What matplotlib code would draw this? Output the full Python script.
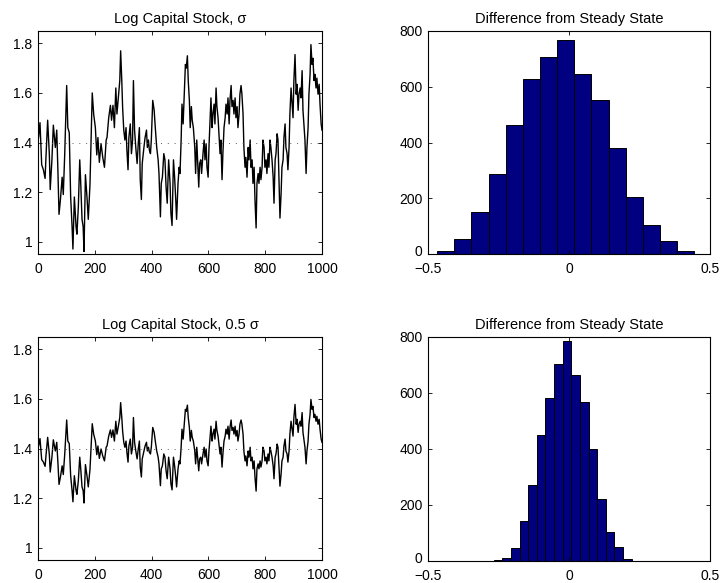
import matplotlib
matplotlib.use("Agg")
import matplotlib.pyplot as plt
import matplotlib.transforms as mtransforms

plt.rcParams["font.family"] = ["Liberation Sans", "DejaVu Sans"]

# time index of the points
steps = [0, 2, 7, 13, 19, 25, 28, 34, 40, 43, 49, 54, 61, 66, 70, 74, 79, 85, 89, 94,
         101, 105, 110, 115, 120, 123, 128, 134, 137, 142, 147, 150, 155, 159, 162, 167, 173, 177, 183, 188,
         191, 196, 202, 207, 211, 216, 222, 228, 234, 240, 243, 249, 255, 259, 264, 269, 274, 278, 283, 288,
         291, 295, 298, 302, 306, 310, 313, 317, 320, 325, 329, 333, 336, 340, 345, 349, 353, 357, 360, 364,
         367, 372, 377, 382, 385, 389, 392, 396, 399, 404, 409, 413, 418, 423, 426, 431, 434, 438, 443, 447,
         451, 455, 460, 465, 468, 472, 477, 481, 485, 488, 493, 497, 500, 504, 507, 511, 515, 519, 522, 526,
         529, 533, 536, 540, 543, 547, 552, 555, 559, 562, 566, 569, 573, 576, 581, 585, 588, 592, 595, 599,
         602, 606, 609, 613, 616, 620, 623, 627, 630, 634, 637, 641, 644, 648, 651, 655, 659, 662, 666, 669,
         673, 676, 680, 683, 687, 690, 694, 697, 701, 704, 708, 711, 715, 718, 722, 725, 729, 732, 736, 740,
         743, 747, 750, 754, 757, 761, 764, 768, 771, 775, 778, 782, 785, 789, 792, 796, 799, 803, 806, 810,
         813, 817, 820, 824, 828, 831, 835, 838, 842, 845, 849, 852, 856, 859, 863, 866, 870, 873, 877, 880,
         884, 887, 891, 894, 898, 901, 905, 909, 912, 916, 919, 923, 926, 930, 933, 937, 940, 944, 947, 951,
         954, 958, 961, 965, 968, 972, 975, 979, 982, 986, 990, 993, 997, 1000]

# log capital stock, full shock size
k_full = [1.41, 1.42, 1.48, 1.31, 1.29, 1.255, 1.34, 1.49, 1.35, 1.21, 1.33, 1.47, 1.38, 1.45, 1.29, 1.11, 1.17, 1.26, 1.19, 1.35,
          1.63, 1.46, 1.44, 1.18, 1.06, 0.97, 1.18, 1.06, 1.03, 1.14, 1.33, 1.25, 1.09, 1.06, 0.96, 1.27, 1.17, 1.09, 1.23, 1.46,
          1.60, 1.515, 1.46, 1.35, 1.42, 1.32, 1.395, 1.34, 1.30, 1.41, 1.42, 1.50, 1.55, 1.49, 1.55, 1.46, 1.62, 1.515, 1.58, 1.65,
          1.77, 1.65, 1.54, 1.45, 1.41, 1.46, 1.37, 1.29, 1.42, 1.475, 1.355, 1.41, 1.65, 1.45, 1.37, 1.315, 1.395, 1.46, 1.25, 1.17,
          1.315, 1.37, 1.42, 1.45, 1.38, 1.41, 1.37, 1.355, 1.41, 1.57, 1.53, 1.46, 1.38, 1.33, 1.275, 1.10, 1.235, 1.26, 1.355, 1.33,
          1.22, 1.155, 1.33, 1.235, 1.115, 1.065, 1.33, 1.26, 1.17, 1.09, 1.235, 1.30, 1.275, 1.41, 1.555, 1.475, 1.595, 1.715, 1.70, 1.75,
          1.65, 1.57, 1.46, 1.545, 1.49, 1.46, 1.38, 1.275, 1.41, 1.33, 1.22, 1.315, 1.33, 1.275, 1.355, 1.41, 1.33, 1.395, 1.30, 1.26,
          1.38, 1.49, 1.58, 1.46, 1.515, 1.555, 1.475, 1.62, 1.545, 1.50, 1.435, 1.355, 1.41, 1.25, 1.355, 1.46, 1.50, 1.555, 1.515, 1.58,
          1.475, 1.57, 1.63, 1.545, 1.57, 1.515, 1.58, 1.50, 1.545, 1.46, 1.515, 1.595, 1.63, 1.595, 1.515, 1.38, 1.30, 1.34, 1.26, 1.38,
          1.33, 1.41, 1.30, 1.33, 1.235, 1.30, 1.17, 1.055, 1.235, 1.275, 1.235, 1.30, 1.25, 1.30, 1.41, 1.38, 1.30, 1.33, 1.275, 1.355,
          1.30, 1.41, 1.38, 1.33, 1.26, 1.155, 1.33, 1.355, 1.435, 1.41, 1.22, 1.095, 1.195, 1.30, 1.33, 1.42, 1.475, 1.38, 1.355, 1.29,
          1.38, 1.515, 1.62, 1.57, 1.50, 1.65, 1.755, 1.595, 1.635, 1.53, 1.595, 1.62, 1.58, 1.69, 1.53, 1.46, 1.41, 1.275, 1.38, 1.46,
          1.595, 1.675, 1.795, 1.715, 1.74, 1.65, 1.675, 1.62, 1.66, 1.595, 1.635, 1.555, 1.475, 1.45]

# log capital stock, half shock size
k_half = [1.405, 1.41, 1.44, 1.355, 1.345, 1.328, 1.37, 1.445, 1.375, 1.305, 1.365, 1.435, 1.39, 1.425, 1.345, 1.255, 1.285, 1.33, 1.295, 1.375,
          1.515, 1.43, 1.42, 1.29, 1.23, 1.185, 1.29, 1.23, 1.215, 1.27, 1.365, 1.325, 1.245, 1.23, 1.18, 1.335, 1.285, 1.245, 1.315, 1.43,
          1.50, 1.458, 1.43, 1.375, 1.41, 1.36, 1.398, 1.37, 1.35, 1.405, 1.41, 1.45, 1.475, 1.445, 1.475, 1.43, 1.51, 1.458, 1.49, 1.525,
          1.585, 1.525, 1.47, 1.425, 1.405, 1.43, 1.385, 1.345, 1.41, 1.438, 1.378, 1.405, 1.525, 1.425, 1.385, 1.358, 1.398, 1.43, 1.325, 1.285,
          1.358, 1.385, 1.41, 1.425, 1.39, 1.405, 1.385, 1.378, 1.405, 1.485, 1.465, 1.43, 1.39, 1.365, 1.338, 1.25, 1.318, 1.33, 1.378, 1.365,
          1.31, 1.278, 1.365, 1.318, 1.258, 1.233, 1.365, 1.33, 1.285, 1.245, 1.318, 1.35, 1.338, 1.405, 1.478, 1.438, 1.498, 1.558, 1.55, 1.575,
          1.525, 1.485, 1.43, 1.473, 1.445, 1.43, 1.39, 1.338, 1.405, 1.365, 1.31, 1.358, 1.365, 1.338, 1.378, 1.405, 1.365, 1.398, 1.35, 1.33,
          1.39, 1.445, 1.49, 1.43, 1.458, 1.478, 1.438, 1.51, 1.473, 1.45, 1.418, 1.378, 1.405, 1.325, 1.378, 1.43, 1.45, 1.478, 1.458, 1.49,
          1.438, 1.485, 1.515, 1.473, 1.485, 1.458, 1.49, 1.45, 1.473, 1.43, 1.458, 1.498, 1.515, 1.498, 1.458, 1.39, 1.35, 1.37, 1.33, 1.39,
          1.365, 1.405, 1.35, 1.365, 1.318, 1.35, 1.285, 1.228, 1.318, 1.338, 1.318, 1.35, 1.325, 1.35, 1.405, 1.39, 1.35, 1.365, 1.338, 1.378,
          1.35, 1.405, 1.39, 1.365, 1.33, 1.278, 1.365, 1.378, 1.418, 1.405, 1.31, 1.248, 1.298, 1.35, 1.365, 1.41, 1.438, 1.39, 1.378, 1.345,
          1.39, 1.458, 1.51, 1.485, 1.45, 1.525, 1.578, 1.498, 1.518, 1.465, 1.498, 1.51, 1.49, 1.545, 1.465, 1.43, 1.405, 1.338, 1.39, 1.43,
          1.498, 1.538, 1.598, 1.558, 1.57, 1.525, 1.538, 1.51, 1.53, 1.498, 1.518, 1.478, 1.438, 1.425]

steady_state = 1.4

# histogram of difference from steady state, full shock
hist_full_centers = [-0.4375, -0.3766, -0.3158, -0.2550, -0.1942, -0.1334, -0.0725, -0.0117,
                     0.0491, 0.1099, 0.1707, 0.2315, 0.2924, 0.3532, 0.4140]
hist_full_counts = [12, 54, 150, 287, 462, 629, 707, 768, 646, 551, 382, 206, 103, 47, 10]

# histogram of difference from steady state, half shock
hist_half_centers = [-0.2520, -0.2214, -0.1908, -0.1602, -0.1296, -0.0990, -0.0684, -0.0378,
                     -0.0072, 0.0234, 0.0540, 0.0846, 0.1152, 0.1458, 0.1764, 0.2070]
hist_half_counts = [3, 9, 47, 142, 273, 450, 581, 702, 787, 665, 567, 399, 221, 105, 49, 8]

fig = plt.figure(figsize=(7.2, 5.83), dpi=100)

W, H = 720.0, 583.0
def place(x0, y0, x1, y1):
    return fig.add_axes([x0 / W, 1 - y1 / H, (x1 - x0) / W, (y1 - y0) / H])

ax1 = place(38, 31, 322, 254)
ax2 = place(428, 31, 710, 254)
ax3 = place(38, 337, 322, 560)
ax4 = place(428, 337, 710, 561)

bar_color = "#000080"
title_fs = 10.5
tick_fs = 10

for ax, series, title in [(ax1, k_full, "Log Capital Stock, \u03c3"),
                          (ax3, k_half, "Log Capital Stock, 0.5 \u03c3")]:
    ax.plot(steps, series, color="black", lw=1.0)
    ax.axhline(steady_state, color="0.35", ls=(0, (1, 6)), lw=0.7)
    ax.set_xlim(0, 1000)
    ax.set_ylim(0.95, 1.85)
    ax.set_xticks([0, 200, 400, 600, 800, 1000])
    ax.set_yticks([1.0, 1.2, 1.4, 1.6, 1.8])
    ax.set_yticklabels(["1", "1.2", "1.4", "1.6", "1.8"])
    ax.set_title(title, fontsize=title_fs, pad=6)

for ax, centers, counts, w in [(ax2, hist_full_centers, hist_full_counts, 0.0608),
                               (ax4, hist_half_centers, hist_half_counts, 0.0306)]:
    ax.bar(centers, counts, width=w, color=bar_color, edgecolor="black", linewidth=0.7)
    ax.set_xlim(-0.5, 0.5)
    ax.set_ylim(0, 800)
    ax.set_xticks([-0.5, 0, 0.5])
    ax.set_xticklabels(["\u22120.5", "0", "0.5"])
    ax.set_yticks([0, 200, 400, 600, 800])
    ax.set_title("Difference from Steady State", fontsize=title_fs, pad=6)

for ax in [ax1, ax2, ax3, ax4]:
    ax.tick_params(direction="in", length=3, width=0.6, labelsize=tick_fs,
                   top=True, right=True)
    ax.tick_params(axis="x", pad=5.5)
    ax.tick_params(axis="y", pad=4)
    for s in ax.spines.values():
        s.set_linewidth(0.8)

# nudge the "0" count label up a little so it clears the -0.5 label
lift = mtransforms.ScaledTranslation(0, 2.5 / 72, fig.dpi_scale_trans)
for ax in [ax2, ax4]:
    lab = ax.get_yticklabels()[0]
    lab.set_transform(lab.get_transform() + lift)

fig.savefig("out.png", dpi=100)
